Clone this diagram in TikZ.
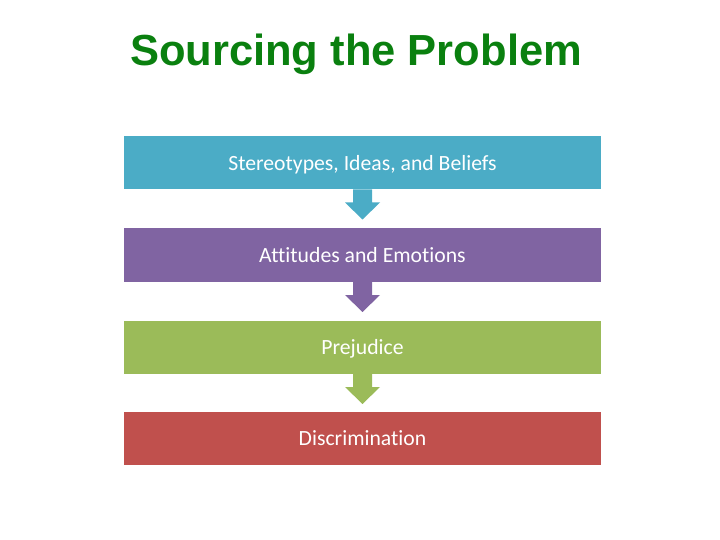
\documentclass[tikz,border=0pt]{standalone}
\usepackage{fontspec}
\setmainfont{Carlito}[Ligatures=NoCommon]
\newfontfamily\titlefont{Liberation Sans}
\usetikzlibrary{calc}
\definecolor{cblue}{HTML}{4BACC6}
\definecolor{cpurple}{HTML}{8064A2}
\definecolor{cgreen}{HTML}{9BBB59}
\definecolor{cred}{HTML}{C0504D}
\definecolor{ctitle}{HTML}{0A800F}
\tikzset{
  stage/.style={minimum width=477pt, minimum height=53.5pt, inner sep=0pt, outer sep=0pt,
    text height=16pt, text depth=1pt,
    text=white, font=\fontsize{21.7}{25}\selectfont, anchor=north},
}
\newcommand\blockarr[2]{%
  \fill[#2] ($(#1.south)+(-9.5,0)$) -- ($(#1.south)+(9.5,0)$) -- ($(#1.south)+(9.5,13)$)
    -- ($(#1.south)+(17.5,13)$) -- ($(#1.south)+(0,30)$) -- ($(#1.south)+(-17.5,13)$)
    -- ($(#1.south)+(-9.5,13)$) -- cycle;}
\begin{document}
\begin{tikzpicture}[x=1pt,y=-1pt]
\useasboundingbox (0,0) rectangle (720,540);
\node[font=\titlefont\bfseries\fontsize{43.5}{50}\selectfont, text=ctitle] (title) at (356,54.5) {Sourcing the Problem};
\node[stage, fill=cblue] (b1) at (362.5,136) {Stereotypes, Ideas, and Beliefs};
\node[stage, fill=cpurple] (b2) at (362.5,228.5) {Attitudes and Emotions};
\node[stage, fill=cgreen] (b3) at (362.5,320.5) {Prejudice};
\node[stage, fill=cred] (b4) at (362.5,411.5) {Discrimination};
\blockarr{b1}{cblue}
\blockarr{b2}{cpurple}
\blockarr{b3}{cgreen}
\end{tikzpicture}
\end{document}
